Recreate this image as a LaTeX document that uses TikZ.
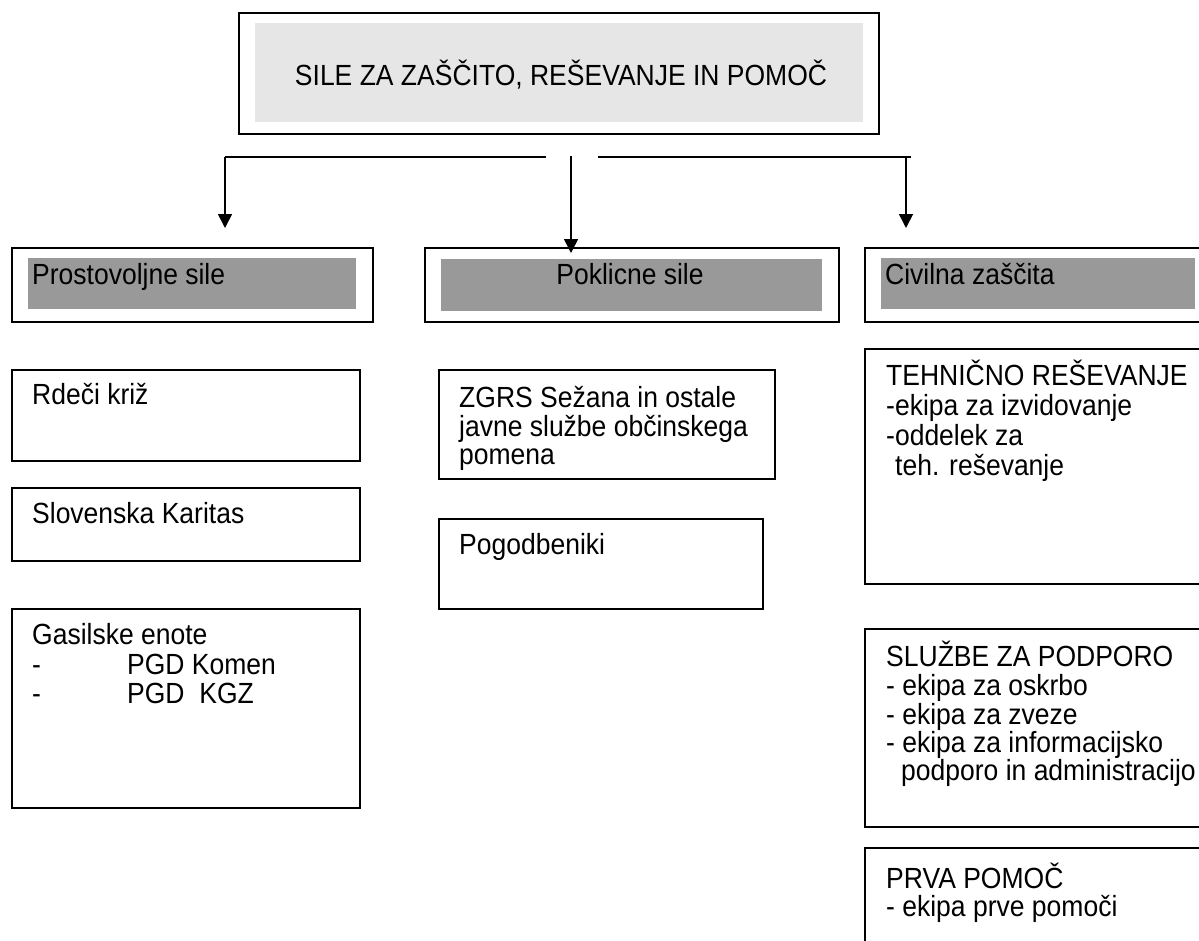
\documentclass[tikz,border=0pt]{standalone}
\usepackage{fontspec}
\usepackage{graphicx}
\setmainfont{Liberation Sans}
\usetikzlibrary{arrows.meta}
\definecolor{lightbg}{HTML}{E6E6E6}
\definecolor{headbg}{HTML}{999999}
\newcommand{\tallt}[1]{\scalebox{1}[1.1]{#1}}
\begin{document}
\begin{tikzpicture}[x=1pt,y=-1pt,
  box/.style={draw=black, line width=2pt, fill=white, inner sep=0pt, anchor=north west},
  graybox/.style={fill=#1, draw=none, inner sep=0pt, anchor=north west},
  txt/.style={inner sep=0pt, anchor=base west, font=\fontsize{26.5}{29}\selectfont},
  conn/.style={line width=1.6pt, draw=black},
  arr/.style={conn, -{Triangle[width=14pt,length=14pt]}}
]
\useasboundingbox (0,0) rectangle (1199,940);
\fill[white] (0,0) rectangle (1199,940);
\clip (0,0) rectangle (1199,940);

% top box
\node[box, minimum width=640pt, minimum height=121pt] (top) at (238,12) {};
\node[graybox=lightbg, minimum width=608pt, minimum height=99pt] (topg) at (255,23) {};
\node[txt, anchor=base] (title) at (561,85) {\tallt{SILE ZA ZAŠČITO, REŠEVANJE IN POMOČ}};

% header boxes
\node[box, minimum width=361pt, minimum height=74pt] (pros) at (11,247) {};
\node[graybox=headbg, minimum width=328pt, minimum height=51pt] (prosg) at (28,258) {};
\node[txt] (prost) at (32,284) {\tallt{Prostovoljne sile}};

\node[box, minimum width=414pt, minimum height=74pt] (pokl) at (424,247) {};
\node[graybox=headbg, minimum width=381pt, minimum height=52pt] (poklg) at (441,259) {};
\node[txt, anchor=base] (poklt) at (630,284) {\tallt{Poklicne sile}};

\node[box, minimum width=345pt, minimum height=74pt] (civ) at (864,247) {};
\node[graybox=headbg, minimum width=314pt, minimum height=51pt] (civg) at (881,258) {};
\node[txt] (civt) at (885,284) {\tallt{Civilna zaščita}};

% connectors
\coordinate (jL) at (225,157);
\coordinate (jLe) at (546,157);
\coordinate (jR) at (598,157);
\coordinate (jRe) at (911,157);
\coordinate (jRv) at (906,157);
\coordinate (tL) at (225,228);
\coordinate (tR) at (906,228);
\coordinate (mS) at (571,156);
\coordinate (tM) at (571,253);
\draw[conn] (jLe) -- (jL);
\draw[arr] (jL) -- (tL);
\draw[conn] (jR) -- (jRe);
\draw[arr] (jRv) -- (tR);
\draw[arr] (mS) -- (tM);

% left column
\node[box, minimum width=348pt, minimum height=91pt] (rk) at (11,369) {};
\node[txt] (rkt) at (32,404) {\tallt{Rdeči križ}};
\node[box, minimum width=348pt, minimum height=73pt] (sk) at (11,487) {};
\node[txt] (skt) at (32,523) {\tallt{Slovenska Karitas}};
\node[box, minimum width=348pt, minimum height=199pt] (gas) at (11,608) {};
\node[txt] (gast1) at (32,644) {\tallt{Gasilske enote}};
\node[txt] (gasd1) at (32,674) {\tallt{-}};
\node[txt] (gast2) at (127,674) {\tallt{PGD Komen}};
\node[txt] (gasd2) at (32,703) {\tallt{-}};
\node[txt] (gast3) at (127,703) {\tallt{PGD\ \ KGZ}};

% middle column
\node[box, minimum width=336pt, minimum height=109pt] (zgrs) at (438,369) {};
\node[txt] (zgrst1) at (459,407) {\tallt{ZGRS Sežana in ostale}};
\node[txt] (zgrst2) at (459,436) {\tallt{javne službe občinskega}};
\node[txt] (zgrst3) at (459,464) {\tallt{pomena}};
\node[box, minimum width=324pt, minimum height=90pt] (pog) at (438,518) {};
\node[txt] (pogt) at (459,554) {\tallt{Pogodbeniki}};

% right column
\node[box, minimum width=345pt, minimum height=235pt] (teh) at (864,348) {};
\node[txt] (teht1) at (886,385) {\tallt{TEHNIČNO REŠEVANJE}};
\node[txt] (teht2) at (886,415) {\tallt{-ekipa za izvidovanje}};
\node[txt] (teht3) at (886,445) {\tallt{-oddelek za}};
\node[txt] (teht4) at (895,475) {\tallt{teh. reševanje}};

\node[box, minimum width=345pt, minimum height=198pt] (slu) at (864,628) {};
\node[txt] (slut1) at (886,666) {\tallt{SLUŽBE ZA PODPORO}};
\node[txt] (slut2) at (886,695) {\tallt{- ekipa za oskrbo}};
\node[txt] (slut3) at (886,724) {\tallt{- ekipa za zveze}};
\node[txt] (slut4) at (886,752) {\tallt{- ekipa za informacijsko}};
\node[txt] (slut5) at (901,780) {\tallt{podporo in administracijo}};

\node[box, minimum width=345pt, minimum height=110pt] (prva) at (864,847) {};
\node[txt] (prvat1) at (886,888) {\tallt{PRVA POMOČ}};
\node[txt] (prvat2) at (886,916) {\tallt{- ekipa prve pomoči}};
\end{tikzpicture}
\end{document}
